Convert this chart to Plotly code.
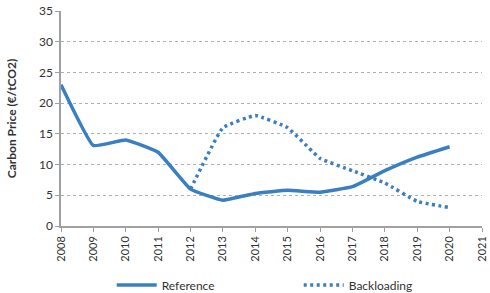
import plotly.graph_objects as go

years = [2008, 2009, 2010, 2011, 2012, 2013, 2014, 2015, 2016, 2017, 2018, 2019, 2020]
reference = [23.0, 13.1, 14.0, 12.0, 6.0, 4.2, 5.3, 5.8, 5.5, 6.4, 9.0, 11.2, 12.9]
back_years = [2012, 2013, 2014, 2015, 2016, 2017, 2018, 2019, 2020]
backloading = [6.0, 16.0, 18.0, 16.0, 11.0, 9.0, 7.0, 4.0, 3.0]
tick_years = list(range(2008, 2022))

color = "#3a7fc1"
fig = go.Figure()
fig.add_trace(go.Scatter(x=years, y=reference, name="Reference", mode="lines",
                         line=dict(color=color, width=3.5, shape="spline", smoothing=0.3)))
fig.add_trace(go.Scatter(x=back_years, y=backloading, name="Backloading", mode="lines",
                         line=dict(color=color, width=3.5, dash="3px,3.5px", shape="spline", smoothing=0.3)))

font_family = "Lato, 'Open Sans', sans-serif"
fig.update_layout(
    width=490, height=293,
    margin=dict(l=61, r=8, t=11, b=67),
    plot_bgcolor="white", paper_bgcolor="white",
    font=dict(family=font_family, size=11, color="#333333"),
    showlegend=True,
    legend=dict(orientation="h", xref="container", yref="container",
                x=0.228, xanchor="left", y=0.027, yanchor="middle",
                font=dict(size=12, color="#333333"), itemwidth=40, tracegroupgap=0,
                entrywidth=132, entrywidthmode="pixels"),
    xaxis=dict(range=[2008, 2021], tickmode="array", tickvals=tick_years,
               ticktext=[str(t) for t in tick_years], tickangle=-90, automargin=False,
               showgrid=False, showline=True, linecolor="#a0a0a0", linewidth=1.5,
               ticks="outside", ticklen=4, tickcolor="#a0a0a0", zeroline=False,
               tickfont=dict(size=11, color="#333333")),
    yaxis=dict(range=[0, 35], tickvals=[0, 5, 10, 15, 20, 25, 30, 35], automargin=False,
               showgrid=True, gridcolor="#b0b0b0", griddash="dot", gridwidth=1,
               showline=True, linecolor="#a0a0a0", linewidth=1.5,
               ticks="outside", ticklen=4, tickcolor="#a0a0a0", zeroline=False,
               title=dict(text="<b>Carbon Price (€/tCO2)</b>", font=dict(size=12, color="#333333"), standoff=20),
               tickfont=dict(size=12, color="#333333")),
)
fig.write_html("out.html")
